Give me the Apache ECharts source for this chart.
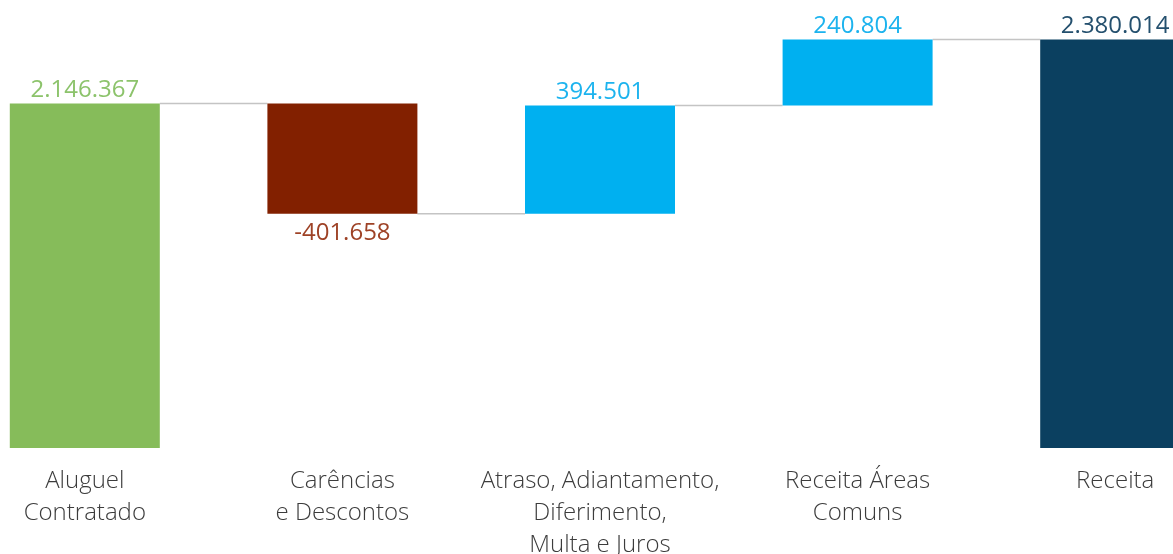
<!DOCTYPE html>
<html>
<head>
<meta charset="utf-8">
<script src="https://cdn.jsdelivr.net/npm/echarts@6/dist/echarts.min.js"></script>
<style>
  html, body { margin: 0; padding: 0; background: #ffffff; overflow: hidden; width: 1173px; height: 554px; }
  /* plot band is wider than the page; outer columns are cut at both edges */
  #chart { position: absolute; left: -44px; top: 0; width: 1288px; height: 554px; }
</style>
</head>
<body>
<div id="chart"></div>
<script>
// Revenue bridge (waterfall): contracted rent through to total revenue
const categories = [
  'Aluguel\nContratado',
  'Carências\ne Descontos',
  'Atraso, Adiantamento,\nDiferimento,\nMulta e Juros',
  'Receita Áreas\nComuns',
  'Receita'
];
// signed step values; totals are flagged in isTotal
const values = [2146367, -401658, 394501, 240804, 2380014];
const isTotal = [true, false, false, false, true];

const barColors = ['#86BC5A', '#822000', '#00B0F0', '#00B0F0', '#0B4060'];
const labelColors = ['#8CC36B', '#9E4226', '#1CB3EE', '#1CB3EE', '#24506E'];

const BAR_WIDTH = 150;
const FONT = '"Open Sans", "Noto Sans", sans-serif';

function fmt(v) {
  const s = String(Math.abs(v)).replace(/\B(?=(\d{3})+(?!\d))/g, '.');
  return (v < 0 ? '-' : '') + s;
}

// running totals -> invisible base + visible step
const baseData = [];
const stepData = [];
const levels = []; // level after each column, used for connectors
let running = 0;
values.forEach((v, i) => {
  if (isTotal[i]) {
    running = v;
    baseData.push(0);
    stepData.push({
      value: v,
      itemStyle: { color: barColors[i] },
      label: { position: 'top', distance: 1, color: labelColors[i] }
    });
  } else {
    const start = running;
    running = start + v;
    baseData.push(Math.min(start, running));
    const neg = v < 0;
    stepData.push({
      value: Math.abs(v),
      itemStyle: { color: barColors[i] },
      label: { position: neg ? 'bottom' : 'top', distance: neg ? 7 : 1, color: labelColors[i] }
    });
  }
  levels.push(running);
});

const connectorData = levels.slice(0, -1).map((lv, i) => [i, lv]);

const chart = echarts.init(document.getElementById('chart'), null, { renderer: 'canvas' });
chart.setOption({
  animation: false,
  backgroundColor: '#ffffff',
  grid: { left: 0, right: 0, top: 34, bottom: 106, containLabel: false, outerBoundsMode: 'none' },
  xAxis: {
    type: 'category',
    data: categories,
    axisLine: { show: false },
    axisTick: { show: false },
    splitLine: { show: false },
    axisLabel: {
      interval: 0,
      margin: 17,
      color: '#3c3c3c',
      fontFamily: FONT,
      fontSize: 24,
      fontWeight: 300,
      lineHeight: 32,
      align: 'center'
    }
  },
  yAxis: {
    type: 'value',
    min: 890000,
    max: 2400000,
    show: false,
    splitLine: { show: false }
  },
  series: [
    {
      type: 'custom',
      name: 'connector',
      z: 1,
      renderItem: function (params, api) {
        const i = api.value(0);
        const lv = api.value(1);
        const p0 = api.coord([i, lv]);
        const p1 = api.coord([i + 1, lv]);
        return {
          type: 'line',
          shape: { x1: p0[0] + BAR_WIDTH / 2, y1: p0[1], x2: p1[0] - BAR_WIDTH / 2, y2: p1[1] },
          style: { stroke: '#c4c4c4', lineWidth: 1.5 }
        };
      },
      data: connectorData
    },
    {
      type: 'bar',
      name: 'base',
      stack: 'wf',
      barWidth: BAR_WIDTH,
      itemStyle: { color: 'transparent' },
      emphasis: { disabled: true },
      data: baseData,
      z: 2
    },
    {
      type: 'bar',
      name: 'valor',
      stack: 'wf',
      barWidth: BAR_WIDTH,
      z: 3,
      label: {
        show: true,
        fontFamily: FONT,
        fontSize: 24,
        formatter: function (p) { return fmt(values[p.dataIndex]); }
      },
      data: stepData
    }
  ]
});
</script>
</body>
</html>
